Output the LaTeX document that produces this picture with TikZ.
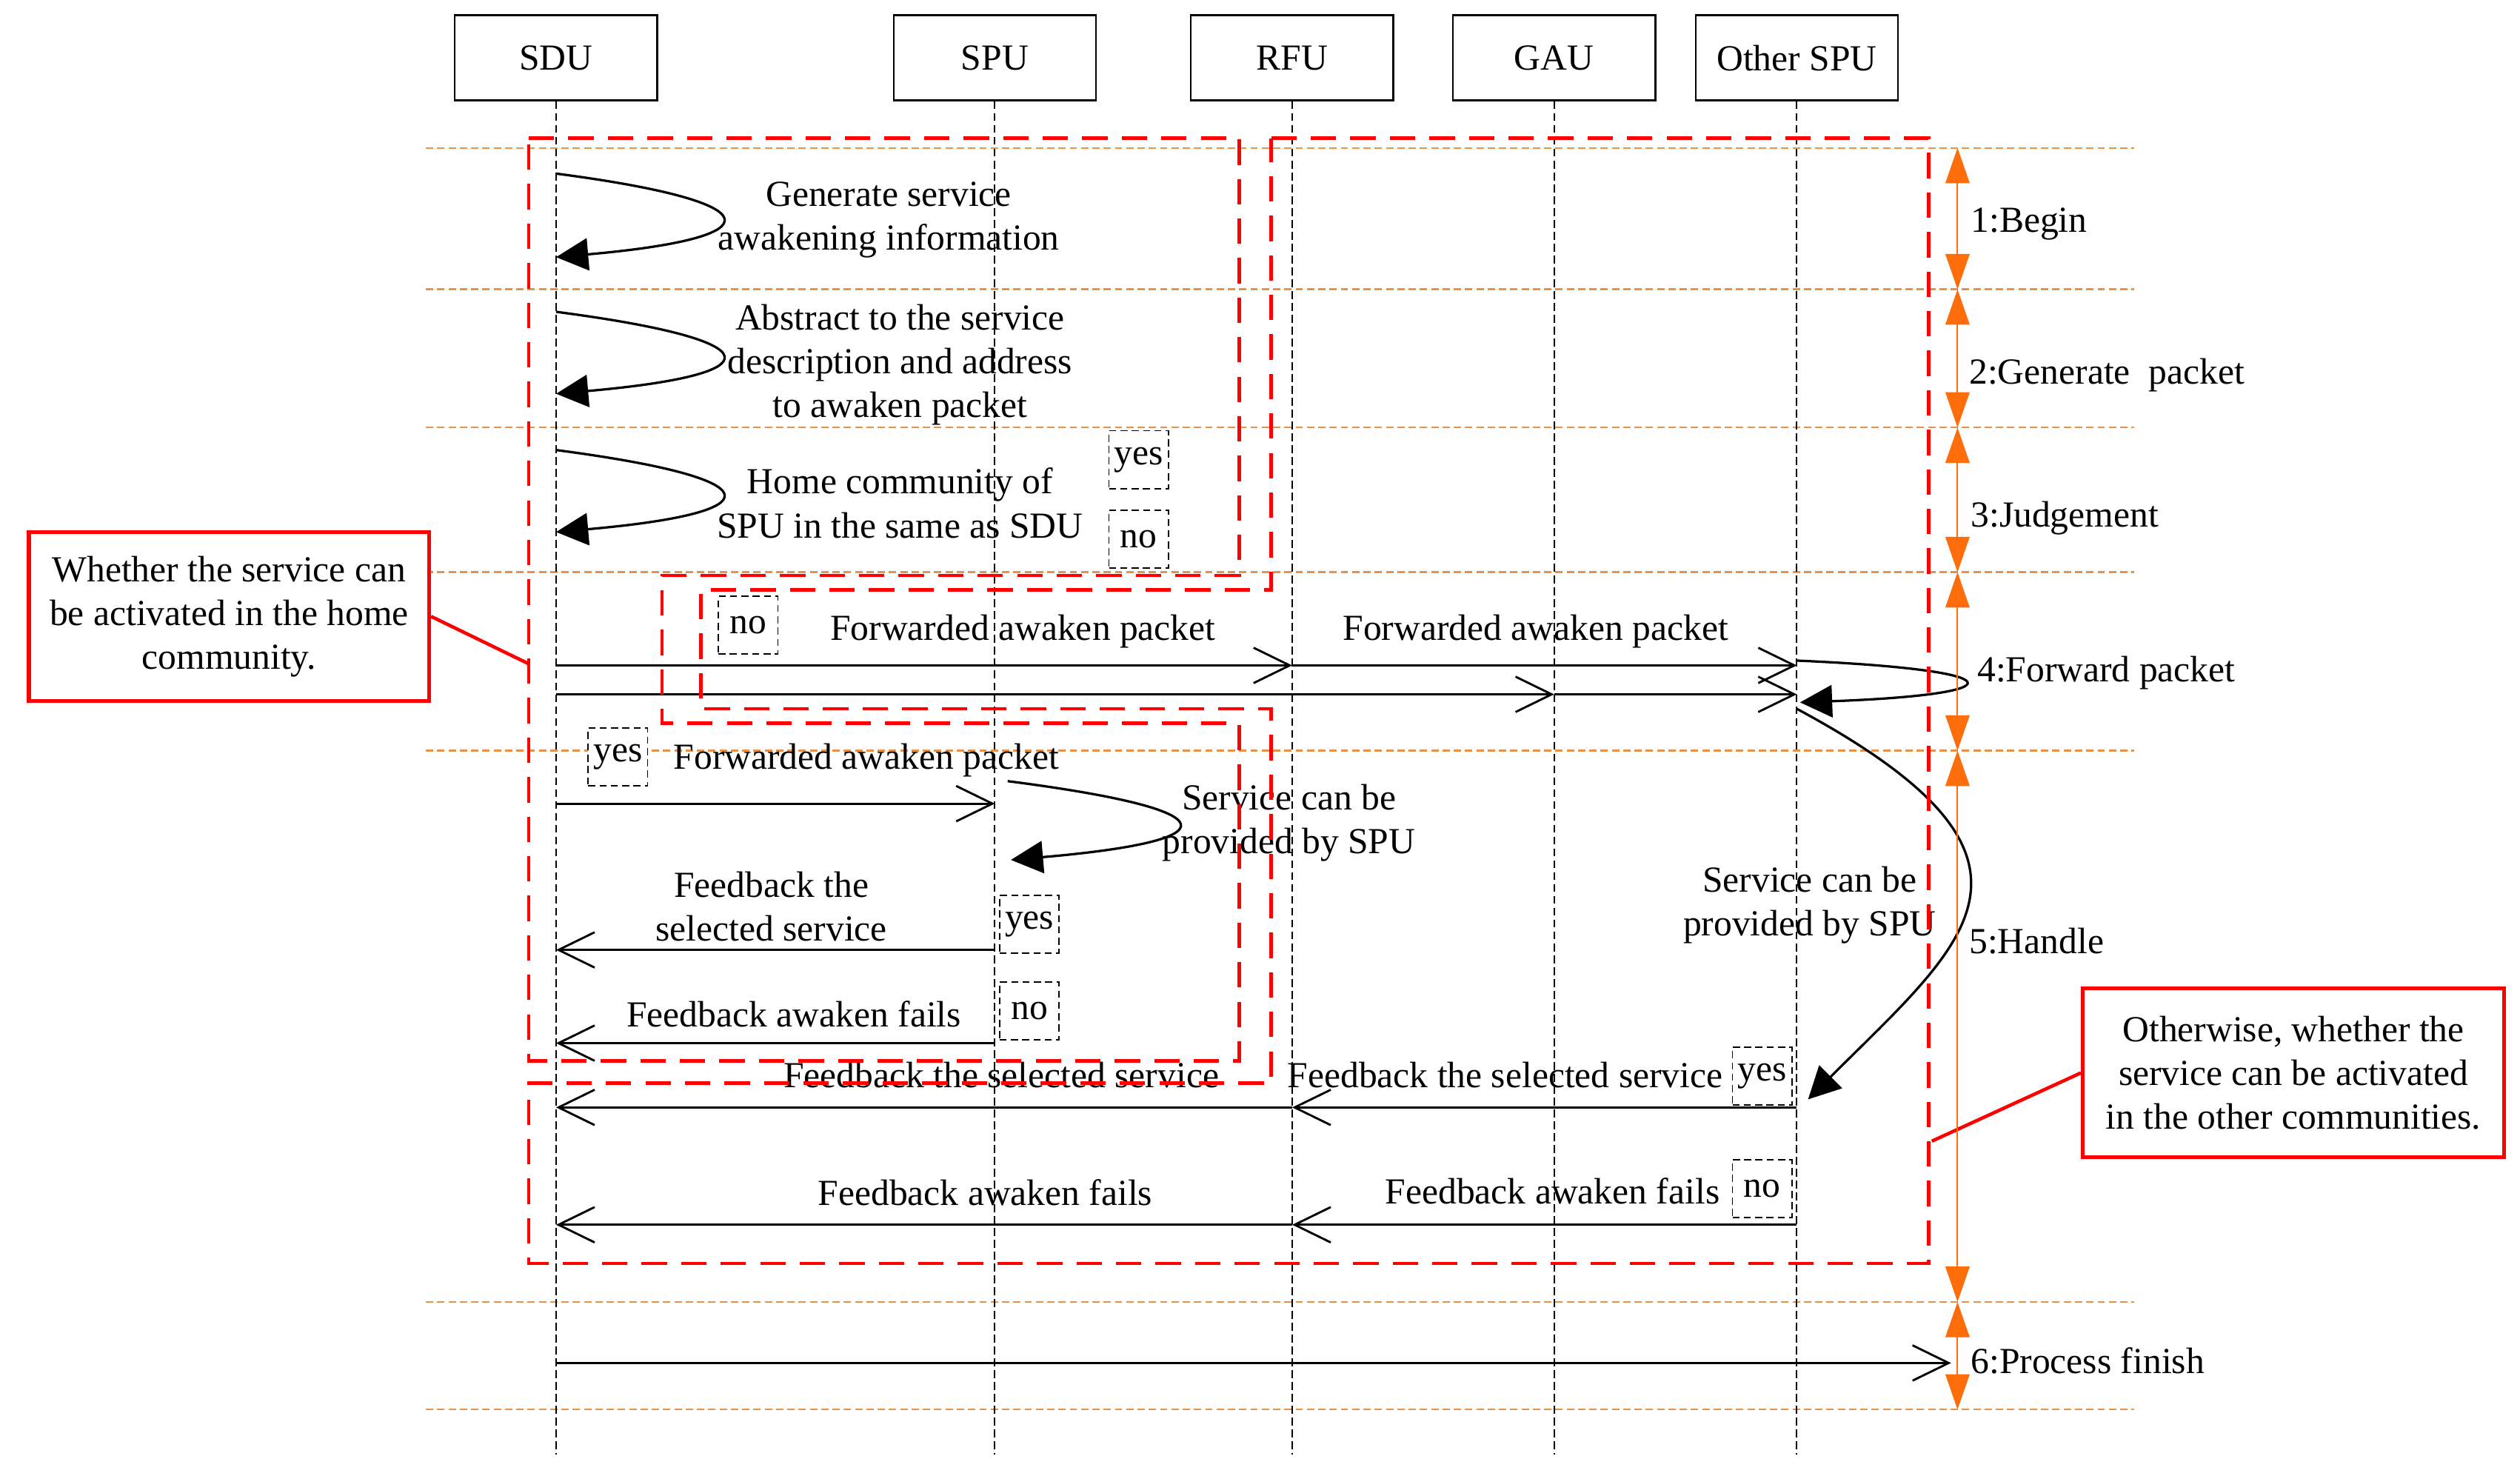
\documentclass[tikz,border=0pt]{standalone}
\usepackage{fontspec}
\setmainfont{Liberation Serif}
\usetikzlibrary{arrows.meta,calc}
\definecolor{sepcol}{RGB}{233,145,70}
\definecolor{phasecol}{RGB}{255,108,10}

\begin{document}
\begin{tikzpicture}[x=0.02cm, y=-0.02cm, font=\fontsize{13}{15.5}\selectfont]
	\tikzstyle{headbox} = [draw, line width=0.6pt, fill=white, minimum width=2.52cm, minimum height=1.06cm, inner sep=0pt]
	\tikzstyle{life} = [line width=0.5pt, dash pattern=on 2.8pt off 1.4pt]
	\tikzstyle{septline} = [draw=sepcol, line width=0.6pt, dash pattern=on 2.6pt off 1.4pt]
	\tikzstyle{msg} = [line width=0.75pt, ->, >={Straight Barb[length=0.45cm, width=0.44cm]}]
	\tikzstyle{selfloop} = [line width=0.85pt, ->, >={Triangle[length=0.4cm, width=0.4cm]}]
	\tikzstyle{choice} = [draw, line width=0.45pt, dash pattern=on 2.5pt off 1.5pt, fill=white, minimum width=0.74cm, minimum height=0.72cm, inner sep=0pt]
	\tikzstyle{txt} = [align=center, inner sep=0pt, yshift=-0.04cm]
	\tikzstyle{region} = [draw=red, line width=1.2pt, dash pattern=on 9pt off 5pt]
	\tikzstyle{note} = [draw=red, line width=1.4pt, fill=white, align=center, minimum width=4.98cm, minimum height=2.1cm]
	\tikzstyle{notelink} = [red, line width=1.2pt]
	\tikzstyle{phasearrow} = [phasecol, line width=0.5pt, <->, >={Triangle[length=0.44cm, width=0.3cm]}]
	\tikzstyle{phaselabel} = [anchor=west, inner sep=0pt, yshift=-0.05cm]
\def\lifeend{905}
\def\phasex{1218}

\useasboundingbox (0,0) rectangle (1568,918);

%phase borders
\foreach \y in {92,180,266,356,467,810,877}
	\draw[septline] (265,\y) -- (1328,\y);

%units and lifelines
\foreach \name/\x/\txt in {sdu/346/SDU, spu/619/SPU, rfu/804/RFU, gau/967/GAU, ospu/1118/Other SPU}
	\node[headbox] (\name) at (\x,36) {\txt};
\foreach \name in {sdu, spu, rfu, gau, ospu}
	\draw[life] (\name.south) -- (\name |- 0,\lifeend);

%steps 1-3
\foreach \ya/\yb in {108/160, 194/245, 280/331}
	\draw[selfloop] (sdu |- 0,\ya) .. controls +(137,18) and +(136,-12) .. (sdu |- 0,\yb);
\node[txt] (gen) at (553,135) {Generate service\\awakening information};
\node[txt] (abs) at (560,225) {Abstract to the service\\description and address\\to awaken packet};
\node[txt] (home) at (560,311) {Home community of\\SPU in the same as SDU};
\node[choice] (yes1) at (708.5,286) {yes};
\node[choice] (no1) at (708.5,335.5) {no};

%messages
\coordinate (fin) at (1214,848);
\foreach \from/\to/\y in {sdu/rfu/414, rfu/ospu/414, sdu/gau/432, gau/ospu/432, sdu/spu/500, spu/sdu/591, spu/sdu/649, ospu/rfu/689, rfu/sdu/689, ospu/rfu/762, rfu/sdu/762}
	\draw[msg] (\from |- 0,\y) -- (\to |- 0,\y);
\draw[msg] (sdu |- 0,848) -- (fin);

%step 4
\node[choice] (no2) at (465.5,389) {no};
\node[txt] (fwd1) at (636.5,391) {Forwarded awaken packet};
\node[txt] (fwd2) at (955.5,391) {Forwarded awaken packet};
\draw[selfloop] (ospu |- 0,411) .. controls +(138,6) and +(136,-5) .. ($(ospu |- 0,437)+(2,0)$);

%step 5
\node[choice] (yes2) at (384.5,471) {yes};
\node[txt] (fwd3) at (539,471) {Forwarded awaken packet};
\draw[selfloop] ($(spu |- 0,486)+(8,0)$) .. controls +(140,18) and +(138,-12) .. ($(spu |- 0,535)+(10,0)$);
\node[txt] (prov1) at (802,510) {Service can be\\provided by SPU};
\node[txt] (fb1) at (480,562) {Feedback the\\selected service};
\node[choice] (yes3) at (640.5,575) {yes};
\node[txt] (fail1) at (494,629) {Feedback awaken fails};
\node[choice] (no3) at (640.5,629) {no};
\draw[selfloop] (ospu |- 0,441) .. controls +(175,94) and +(98,-98) .. ($(ospu |- 0,684)+(7,0)$);
\node[txt] (prov2) at (1126,561) {Service can be\\provided by SPU};
\node[txt] (fb2) at (623,667) {Feedback the selected service};
\node[txt] (fb3) at (936.5,667) {Feedback the selected service};
\node[choice] (yes4) at (1096.5,669.5) {yes};
\node[txt] (fail2) at (613,740) {Feedback awaken fails};
\node[txt] (fail3) at (966,739) {Feedback awaken fails};
\node[choice] (no4) at (1096.5,739.5) {no};

%home community / other communities
\draw[region] (329,86) -- (771,86) -- (771,358) -- (412,358) -- (412,450) -- (771,450) -- (771,660) -- (329,660) -- cycle;
\draw[region] (791,86) -- (1200,86) -- (1200,786) -- (329,786) -- (329,674) -- (791,674) -- (791,441) -- (436,441) -- (436,367) -- (791,367) -- cycle;

\node[note] (homenote) at (142.5,383.5) {Whether the service can\\be activated in the home\\community.};
\coordinate (homeedge) at (329,413);
\draw[notelink] (homenote.east) -- (homeedge);
\node[note, minimum width=5.24cm] (othernote) at (1427,667.5) {Otherwise, whether the\\service can be activated\\in the other communities.};
\coordinate (otheredge) at (1202,710);
\draw[notelink] (othernote.west) -- (otheredge);

%phases
\foreach \i/\y in {0/92, 1/180, 2/266, 3/356, 4/467, 5/810, 6/877}
	\coordinate (p\i) at (\phasex,\y);
\foreach \from/\to in {p0/p1, p1/p2, p2/p3, p3/p4, p4/p5, p5/p6}
	\draw[phasearrow] (\from) -- (\to);
\foreach \name/\x/\y/\txt in {ph1/1226/137/1:Begin, ph2/1225/231/2:Generate\ \ packet, ph3/1226/320/3:Judgement, ph4/1230/416/4:Forward packet, ph5/1225/583/5:Handle, ph6/1226/844/6:Process finish}
	\node[phaselabel] (\name) at (\x,\y) {\txt};
\end{tikzpicture}
\end{document}
